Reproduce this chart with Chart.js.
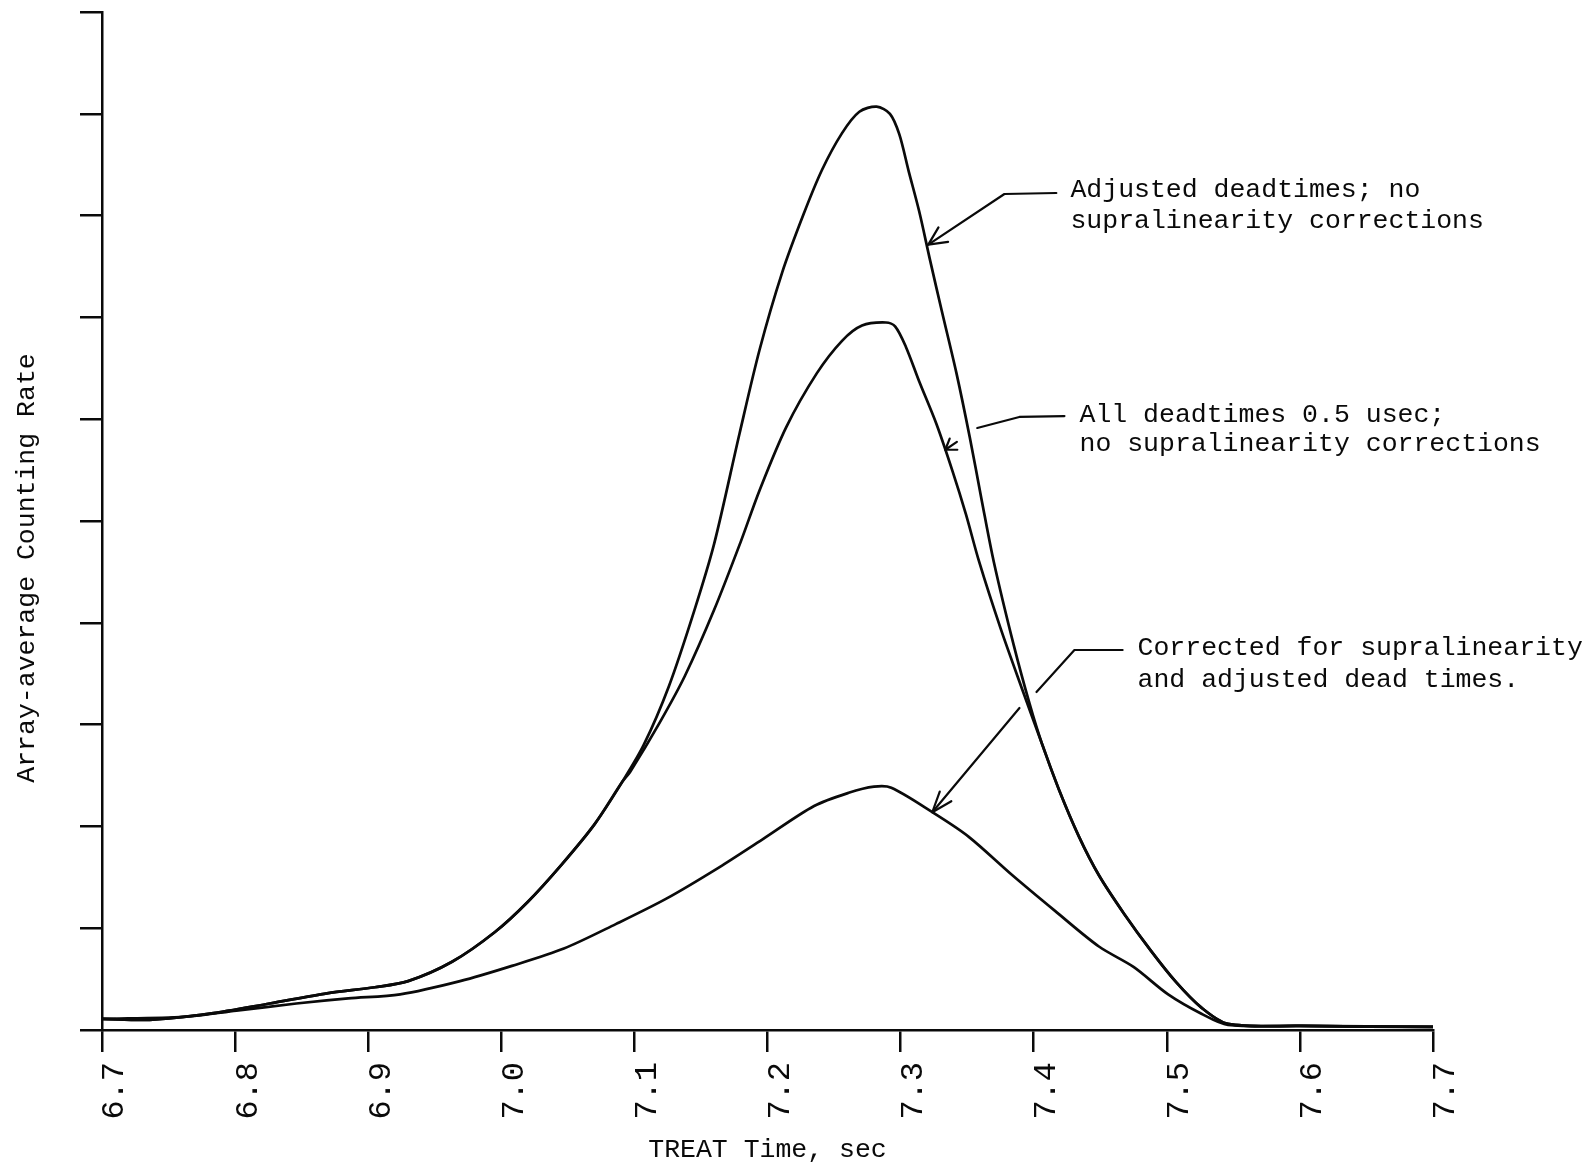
<!DOCTYPE html>
<html>
<head>
<meta charset="utf-8">
<script src="https://cdn.jsdelivr.net/npm/chart.js@4.4.0/dist/chart.umd.min.js"></script>
<style>
  html, body { margin: 0; padding: 0; background: #ffffff; }
  canvas { display: block; }
</style>
</head>
<body>
<canvas id="chart" width="1587" height="1162"></canvas>
<script>
// ---------------- data ----------------
const tickValues = [6.7, 6.8, 6.9, 7.0, 7.1, 7.2, 7.3, 7.4, 7.5, 7.6, 7.7];
const tickLabels = ['6.7', '6.8', '6.9', '7.0', '7.1', '7.2', '7.3', '7.4', '7.5', '7.6', '7.7'];

const xTitle = 'TREAT Time, sec';
const yTitle = 'Array-average Counting Rate';

const seriesNames = [
  'Adjusted deadtimes; no supralinearity corrections',
  'All deadtimes 0.5 usec; no supralinearity corrections',
  'Corrected for supralinearity and adjusted dead times.'
];

// Adjusted deadtimes; no supralinearity corrections
const adjustedTime = [6.700, 6.736, 6.781, 6.826, 6.869, 6.905, 6.930, 6.963, 6.995, 7.020, 7.045, 7.070, 7.091,
  7.107, 7.126, 7.145, 7.160, 7.179, 7.194, 7.211, 7.227, 7.241, 7.256, 7.269, 7.282, 7.292, 7.299, 7.306, 7.314,
  7.322, 7.331, 7.342, 7.352, 7.361, 7.370, 7.385, 7.397, 7.406, 7.419, 7.434, 7.449, 7.468, 7.488, 7.507, 7.526,
  7.546, 7.600, 7.700];
const adjustedRate = [0.11, 0.10, 0.16, 0.26, 0.36, 0.42, 0.48, 0.67, 0.96, 1.26, 1.62, 2.02, 2.44,
  2.80, 3.38, 4.12, 4.78, 5.86, 6.68, 7.44, 8.01, 8.45, 8.81, 9.02, 9.07, 9.00, 8.80, 8.44, 8.04,
  7.57, 7.06, 6.45, 5.82, 5.20, 4.60, 3.78, 3.20, 2.82, 2.36, 1.90, 1.52, 1.14, 0.78, 0.47, 0.22,
  0.06, 0.04, 0.03];

// All deadtimes 0.5 usec; no supralinearity corrections
const halfUsecTime = [6.700, 6.736, 6.781, 6.826, 6.869, 6.905, 6.930, 6.963, 6.995, 7.020, 7.045, 7.070, 7.091,
  7.097, 7.119, 7.138, 7.160, 7.180, 7.194, 7.214, 7.237, 7.256, 7.271, 7.289, 7.296, 7.304, 7.314, 7.327, 7.339,
  7.349, 7.359, 7.375, 7.391, 7.406, 7.419, 7.434, 7.449, 7.468, 7.488, 7.507, 7.526, 7.546, 7.600, 7.700];
const halfUsecRate = [0.11, 0.10, 0.16, 0.26, 0.36, 0.42, 0.48, 0.67, 0.96, 1.26, 1.62, 2.02, 2.44,
  2.54, 3.02, 3.48, 4.13, 4.80, 5.30, 5.92, 6.45, 6.77, 6.92, 6.95, 6.91, 6.71, 6.37, 5.95, 5.49,
  5.07, 4.60, 3.95, 3.36, 2.82, 2.36, 1.90, 1.52, 1.14, 0.78, 0.47, 0.22, 0.06, 0.04, 0.03];

// Corrected for supralinearity and adjusted dead times
const correctedTime = [6.700, 6.762, 6.801, 6.846, 6.885, 6.924, 6.969, 7.008, 7.047, 7.086, 7.124, 7.164, 7.196,
  7.235, 7.261, 7.280, 7.293, 7.325, 7.351, 7.384, 7.416, 7.449, 7.475, 7.501, 7.526, 7.546, 7.600, 7.700];
const correctedRate = [0.11, 0.13, 0.19, 0.26, 0.31, 0.35, 0.48, 0.63, 0.80, 1.04, 1.29, 1.60, 1.87,
  2.20, 2.33, 2.39, 2.38, 2.13, 1.90, 1.52, 1.17, 0.82, 0.62, 0.35, 0.16, 0.05, 0.04, 0.03];

// ---------------- annotations (in data units) ----------------
const notes = [
  { lines: ['Adjusted deadtimes; no', 'supralinearity corrections'], at: [7.4276, 8.251], gap: 31,
    leader: [[7.417, 8.222], [7.378, 8.212], [7.3208, 7.715]], head: 20, headAngle: 0.45 },
  { lines: ['All deadtimes 0.5 usec;', 'no supralinearity corrections'], at: [7.4344, 6.041], gap: 29,
    leader: [[7.4231, 6.031], [7.3892, 6.022], [7.3576, 5.914]], tip: [7.3336, 5.70], head: 12, headAngle: 0.6 },
  { lines: ['Corrected for supralinearity', 'and adjusted dead times.'], at: [7.478, 3.752], gap: 32,
    leader: [[7.4668, 3.733], [7.4306, 3.733], [7.4021, 3.320]],
    leader2: [[7.3893, 3.163], [7.3238, 2.139]], head: 22, headAngle: 0.35 }
];

// ---------------- helpers ----------------
const FONT = '"Liberation Mono", "DejaVu Sans Mono", monospace';
const INK = '#0a0a0a';
const toXY = (xs, ys) => xs.map((x, i) => ({ x: x, y: ys[i] }));

function arrowHead(ctx, fx, fy, tx, ty, len, ang) {
  const a = Math.atan2(ty - fy, tx - fx);
  ctx.beginPath();
  ctx.moveTo(tx - len * Math.cos(a - ang), ty - len * Math.sin(a - ang));
  ctx.lineTo(tx, ty);
  ctx.lineTo(tx - len * Math.cos(a + ang), ty - len * Math.sin(a + ang));
  ctx.stroke();
}

const annotationPlugin = {
  id: 'annotations',
  afterDraw(chart) {
    const { ctx, chartArea, scales: { x, y } } = chart;
    const px = p => [x.getPixelForValue(p[0]), y.getPixelForValue(p[1])];
    ctx.save();
    // y-axis title
    ctx.fillStyle = INK;
    ctx.font = '26.5px ' + FONT;
    ctx.textAlign = 'center';
    ctx.textBaseline = 'middle';
    ctx.translate(chartArea.left - 75, (chartArea.top + chartArea.bottom) / 2 + 47);
    ctx.rotate(-Math.PI / 2);
    ctx.fillText(yTitle, 0, 0);
    ctx.restore();

    ctx.save();
    ctx.strokeStyle = INK;
    ctx.fillStyle = INK;
    ctx.lineWidth = 2.2;
    ctx.lineCap = 'round';
    ctx.lineJoin = 'round';
    ctx.font = '26.5px ' + FONT;
    ctx.textAlign = 'left';
    ctx.textBaseline = 'middle';
    notes.forEach(n => {
      const t = px(n.at);
      n.lines.forEach((line, i) => ctx.fillText(line, t[0], t[1] + i * n.gap));
      const pts = n.leader.map(px);
      ctx.beginPath();
      ctx.moveTo(pts[0][0], pts[0][1]);
      for (let i = 1; i < pts.length; i++) ctx.lineTo(pts[i][0], pts[i][1]);
      ctx.stroke();
      if (n.leader2) {
        const q = n.leader2.map(px);
        ctx.beginPath();
        ctx.moveTo(q[0][0], q[0][1]);
        ctx.lineTo(q[1][0], q[1][1]);
        ctx.stroke();
        arrowHead(ctx, q[0][0], q[0][1], q[1][0], q[1][1], n.head, n.headAngle);
      } else if (n.tip) {
        const from = pts[pts.length - 1];
        const tip = px(n.tip);
        const a = Math.atan2(tip[1] - from[1], tip[0] - from[0]);
        ctx.beginPath();
        ctx.moveTo(tip[0] - 14 * Math.cos(a), tip[1] - 14 * Math.sin(a));
        ctx.lineTo(tip[0], tip[1]);
        ctx.stroke();
        arrowHead(ctx, from[0], from[1], tip[0], tip[1], n.head, n.headAngle);
      } else {
        const a = pts[pts.length - 2], b = pts[pts.length - 1];
        arrowHead(ctx, a[0], a[1], b[0], b[1], n.head, n.headAngle);
      }
    });
    ctx.restore();
  }
};

const lineStyle = {
  borderColor: INK,
  borderWidth: 2.7,
  pointRadius: 0,
  fill: false,
  tension: 0.3
};

new Chart(document.getElementById('chart'), {
  type: 'line',
  data: {
    datasets: [
      Object.assign({ label: seriesNames[0], data: toXY(adjustedTime, adjustedRate) }, lineStyle),
      Object.assign({ label: seriesNames[1], data: toXY(halfUsecTime, halfUsecRate) }, lineStyle),
      Object.assign({ label: seriesNames[2], data: toXY(correctedTime, correctedRate) }, lineStyle)
    ]
  },
  options: {
    responsive: false,
    animation: false,
    devicePixelRatio: 1,
    layout: { padding: { top: 12, right: 154, bottom: 0, left: 0 } },
    plugins: { legend: { display: false }, tooltip: { enabled: false } },
    scales: {
      x: {
        type: 'linear',
        min: 6.7,
        max: 7.7,
        afterBuildTicks: s => { s.ticks = tickValues.map(v => ({ value: v })); },
        afterFit: s => { s.height = 132; s.paddingLeft = 0; s.paddingRight = 0; },
        ticks: {
          callback: (v, i) => tickLabels[i],
          minRotation: 90,
          maxRotation: 90,
          autoSkip: false,
          color: INK,
          padding: 10,
          labelOffset: 13,
          font: { family: FONT, size: 32 }
        },
        grid: { drawOnChartArea: false, drawTicks: true, tickLength: 22, color: INK, lineWidth: 2.5 },
        border: { display: true, color: INK, width: 2.5 },
        title: { display: true, text: xTitle, color: INK, font: { family: FONT, size: 26.5 }, padding: { top: 0, bottom: -4 } }
      },
      y: {
        type: 'linear',
        min: 0,
        max: 10,
        afterFit: s => { s.width = 102; s.paddingTop = 0; s.paddingBottom = 0; },
        ticks: { stepSize: 1, display: false },
        grid: { drawOnChartArea: false, drawTicks: true, tickLength: 22, color: INK, lineWidth: 2.5 },
        border: { display: true, color: INK, width: 2.5 }
      }
    }
  },
  plugins: [annotationPlugin]
});
</script>
</body>
</html>
